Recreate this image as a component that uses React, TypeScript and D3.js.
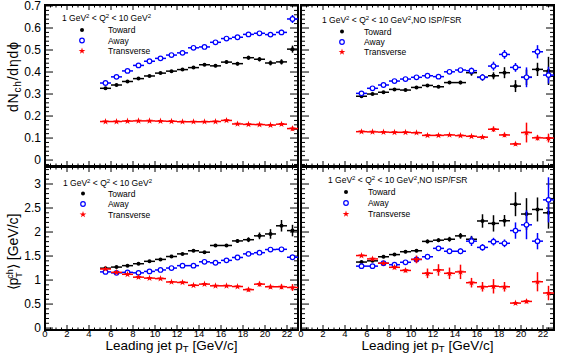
import React from "react";
import * as d3 from "d3";

// bin centres of leading jet pT (bins 1 GeV/c wide)
const ptBins = [5.5, 6.5, 7.5, 8.5, 9.5, 10.5, 11.5, 12.5, 13.5, 14.5, 15.5, 16.5, 17.5, 18.5, 19.5, 20.5, 21.5, 22.5];
const binHalf = 0.5;

const xTickValues = [0, 2, 4, 6, 8, 10, 12, 14, 16, 18, 20, 22];
const dnTickValues = [0, 0.1, 0.2, 0.3, 0.4, 0.5, 0.6, 0.7];
const ptTickValues = [0, 0.5, 1, 1.5, 2, 2.5, 3];

// dN/dηdϕ, 1 < Q2 < 10
const towardDN = [0.326, 0.341, 0.357, 0.37, 0.382, 0.395, 0.404, 0.411, 0.42, 0.433, 0.428, 0.445, 0.438, 0.465, 0.458, 0.441, 0.446, 0.504];
const towardDNErr = [0.004, 0.004, 0.004, 0.004, 0.004, 0.004, 0.005, 0.005, 0.005, 0.005, 0.006, 0.007, 0.008, 0.009, 0.01, 0.011, 0.012, 0.016];
const awayDN = [0.35, 0.378, 0.405, 0.43, 0.449, 0.462, 0.477, 0.487, 0.51, 0.514, 0.535, 0.552, 0.558, 0.571, 0.576, 0.57, 0.58, 0.641];
const awayDNErr = [0.004, 0.004, 0.004, 0.004, 0.004, 0.004, 0.005, 0.005, 0.005, 0.005, 0.006, 0.007, 0.008, 0.009, 0.01, 0.011, 0.012, 0.018];
const transDN = [0.175, 0.175, 0.177, 0.178, 0.178, 0.177, 0.176, 0.174, 0.174, 0.174, 0.175, 0.18, 0.164, 0.162, 0.161, 0.159, 0.163, 0.143];
const transDNErr = [0.002, 0.002, 0.002, 0.002, 0.002, 0.002, 0.002, 0.002, 0.002, 0.003, 0.003, 0.003, 0.004, 0.004, 0.004, 0.005, 0.006, 0.01];

// dN/dηdϕ, NO ISR/FSR
const towardDN2 = [0.29, 0.3, 0.308, 0.321, 0.318, 0.33, 0.339, 0.333, 0.352, 0.352, 0.397, 0.376, 0.383, 0.397, 0.336, 0.376, 0.412, 0.405];
const towardDN2Err = [0.004, 0.004, 0.004, 0.005, 0.005, 0.005, 0.006, 0.006, 0.007, 0.008, 0.014, 0.015, 0.016, 0.025, 0.027, 0.035, 0.03, 0.064];
const awayDN2 = [0.303, 0.326, 0.341, 0.359, 0.368, 0.376, 0.383, 0.379, 0.401, 0.409, 0.406, 0.376, 0.427, 0.48, 0.421, 0.376, 0.492, 0.386];
const awayDN2Err = [0.004, 0.004, 0.004, 0.005, 0.005, 0.005, 0.006, 0.006, 0.007, 0.008, 0.014, 0.015, 0.02, 0.02, 0.02, 0.045, 0.03, 0.038];
const transDN2 = [0.129, 0.128, 0.127, 0.126, 0.126, 0.124, 0.112, 0.112, 0.114, 0.111, 0.108, 0.104, 0.14, 0.114, 0.073, 0.125, 0.101, 0.1];
const transDN2Err = [0.002, 0.002, 0.002, 0.002, 0.002, 0.002, 0.002, 0.002, 0.003, 0.003, 0.004, 0.005, 0.012, 0.01, 0.008, 0.045, 0.012, 0.02];

// <pT>, 1 < Q2 < 10
const towardPT = [1.247, 1.27, 1.3, 1.34, 1.39, 1.43, 1.49, 1.545, 1.61, 1.58, 1.72, 1.72, 1.815, 1.84, 1.92, 1.96, 2.13, 2.03];
const towardPTErr = [0.01, 0.01, 0.01, 0.01, 0.015, 0.015, 0.015, 0.02, 0.02, 0.02, 0.03, 0.03, 0.04, 0.05, 0.07, 0.1, 0.12, 0.12];
const awayPT = [1.17, 1.15, 1.16, 1.15, 1.18, 1.21, 1.25, 1.3, 1.3, 1.38, 1.36, 1.41, 1.47, 1.545, 1.57, 1.635, 1.64, 1.475];
const awayPTErr = [0.01, 0.01, 0.01, 0.01, 0.01, 0.01, 0.015, 0.015, 0.015, 0.02, 0.02, 0.02, 0.02, 0.03, 0.03, 0.04, 0.05, 0.05];
const transPT = [1.23, 1.16, 1.12, 1.06, 1.04, 1.03, 0.96, 0.95, 0.89, 0.915, 0.88, 0.88, 0.865, 0.8, 0.915, 0.86, 0.86, 0.845];
const transPTErr = [0.01, 0.01, 0.01, 0.01, 0.01, 0.01, 0.015, 0.015, 0.015, 0.02, 0.02, 0.02, 0.03, 0.04, 0.05, 0.04, 0.05, 0.07];

// <pT>, NO ISR/FSR
const towardPT2 = [1.375, 1.4, 1.485, 1.53, 1.59, 1.61, 1.805, 1.83, 1.85, 1.92, 1.85, 2.23, 2.18, 2.235, 2.58, 2.375, 2.47, 2.4];
const towardPT2Err = [0.02, 0.02, 0.02, 0.03, 0.03, 0.03, 0.04, 0.04, 0.05, 0.06, 0.07, 0.14, 0.17, 0.12, 0.25, 0.33, 0.25, 0.33];
const awayPT2 = [1.29, 1.29, 1.35, 1.32, 1.37, 1.43, 1.485, 1.66, 1.6, 1.6, 1.81, 1.68, 1.8, 1.765, 2.03, 2.15, 1.81, 2.67];
const awayPT2Err = [0.02, 0.02, 0.03, 0.03, 0.03, 0.04, 0.04, 0.05, 0.05, 0.06, 0.1, 0.07, 0.08, 0.08, 0.17, 0.3, 0.17, 0.47];
const transPT2 = [1.51, 1.44, 1.35, 1.265, 1.2, 1.43, 1.14, 1.21, 1.14, 1.17, 0.945, 0.86, 0.87, 0.86, 0.52, 0.555, 0.965, 0.73];
const transPT2Err = [0.02, 0.03, 0.03, 0.04, 0.04, 0.08, 0.1, 0.12, 0.12, 0.15, 0.1, 0.1, 0.15, 0.1, 0.03, 0.04, 0.2, 0.15];

const seriesNames = ["Toward", "Away", "Transverse"];
const colors = ["#000000", "#0000ff", "#ff0000"];

const FONT = "Liberation Sans, Arial, Helvetica, sans-serif";
const PW = 253;
const starPath = d3.symbol(d3.symbolStar, 14)() as string;

const Marker = ({ kind, x, y }: { kind: number; x: number; y: number }) => {
  if (kind === 0) return <circle cx={x} cy={y} r={2} fill={colors[0]} />;
  if (kind === 1) return <circle cx={x} cy={y} r={2.3} fill="white" stroke={colors[1]} strokeWidth={1.2} />;
  return <path d={starPath} transform={`translate(${x},${y})`} fill={colors[2]} />;
};

const Q2Title = ({ x, y, suffix }: { x: number; y: number; suffix: string }) => (
  <text x={x} y={y} fontSize={8.5} fontFamily={FONT}>
    1 GeV<tspan dy={-3.5} fontSize={6}>2</tspan>
    <tspan dy={3.5}> &lt; Q</tspan>
    <tspan dy={-3.5} fontSize={6}>2</tspan>
    <tspan dy={3.5}> &lt; 10 GeV</tspan>
    <tspan dy={-3.5} fontSize={6}>2</tspan>
    <tspan dy={3.5}>{suffix}</tspan>
  </text>
);

type PanelProps = {
  x0: number;
  y: d3.ScaleLinear<number, number>;
  data: number[][];
  errs: number[][];
  yTicks: number[];
  yMinor: number;
  showY: boolean;
  showX: boolean;
  legend: { tx: number; ty: number; mx: number; lx: number; ly: number[]; suffix: string };
};

const Panel = ({ x0, y, data, errs, yTicks, yMinor, showY, showX, legend }: PanelProps) => {
  const x = d3.scaleLinear().domain([0, 23]).range([x0, x0 + PW]);
  const [yb, yt] = y.range();
  const [ymin, ymax] = y.domain();
  const xMinor = d3.range(0, 23.01, 0.5);
  const yMinorTicks = d3.range(Math.ceil(ymin / yMinor) * yMinor, ymax + 1e-9, yMinor);
  const x1 = x0 + PW;
  return (
    <g>
      {/* ticks */}
      <g stroke="black" strokeWidth={1}>
        {xMinor.map((t) => {
          const major = xTickValues.some((v) => Math.abs(v - t) < 1e-6);
          const len = major ? 5 : 2.5;
          return (
            <g key={"x" + t}>
              <line x1={x(t)} x2={x(t)} y1={yb} y2={yb - len} />
              <line x1={x(t)} x2={x(t)} y1={yt} y2={yt + len} />
            </g>
          );
        })}
        {yMinorTicks.map((t) => {
          const major = yTicks.some((v) => Math.abs(v - t) < 1e-6);
          const len = major ? 8 : 4;
          return (
            <g key={"y" + t}>
              <line x1={x0} x2={x0 + len} y1={y(t)} y2={y(t)} />
              <line x1={x1} x2={x1 - len} y1={y(t)} y2={y(t)} />
            </g>
          );
        })}
      </g>
      <rect x={x0} y={yt} width={PW} height={yb - yt} fill="none" stroke="black" strokeWidth={2} />
      {showY &&
        yTicks.map((t) => (
          <text key={"yl" + t} x={x0 - 4} y={y(t) + 4.3} textAnchor="end" fontSize={12} fontFamily={FONT}>
            {d3.format("~g")(t)}
          </text>
        ))}
      {showX &&
        xTickValues.map((t) => (
          <text key={"xl" + t} x={x(t)} y={yb + 6.5} textAnchor="middle" fontSize={9.5} fontFamily={FONT}>
            {t}
          </text>
        ))}
      {/* data */}
      {data.map((vals, s) => (
        <g key={"s" + s} stroke={colors[s]} strokeWidth={1.5}>
          {vals.map((v, i) => {
            const cx = x(ptBins[i]);
            const cy = y(v);
            return (
              <g key={i}>
                <line x1={x(ptBins[i] - binHalf)} x2={x(ptBins[i] + binHalf)} y1={cy} y2={cy} />
                <line x1={cx} x2={cx} y1={y(v - errs[s][i])} y2={y(v + errs[s][i])} />
              </g>
            );
          })}
          <g stroke="none">
            {vals.map((v, i) => (
              <Marker key={"m" + i} kind={s} x={x(ptBins[i])} y={y(v)} />
            ))}
          </g>
        </g>
      ))}
      {/* legend */}
      <Q2Title x={legend.tx} y={legend.ty} suffix={legend.suffix} />
      {seriesNames.map((n, s) => (
        <g key={n}>
          <Marker kind={s} x={legend.mx} y={legend.ly[s]} />
          <text x={legend.lx} y={legend.ly[s] + 3} fontSize={8.5} fontFamily={FONT}>
            {n}
          </text>
        </g>
      ))}
    </g>
  );
};

export default function App() {
  const yTop = d3.scaleLinear().domain([-0.027, 0.7045]).range([166, 5]);
  const yBot = d3.scaleLinear().domain([-0.04, 3.354]).range([330, 167]);
  const noIsr = ",NO ISP/FSR";
  return (
    <svg width={565} height={353} style={{ position: "absolute", left: 0, top: 0, background: "white" }}>
      <Panel
        x0={45}
        y={yTop}
        data={[towardDN, awayDN, transDN]}
        errs={[towardDNErr, awayDNErr, transDNErr]}
        yTicks={dnTickValues}
        yMinor={0.02}
        showY
        showX={false}
        legend={{ tx: 62, ty: 21, mx: 82, lx: 108, ly: [30, 40.5, 51], suffix: "" }}
      />
      <Panel
        x0={301}
        y={yTop}
        data={[towardDN2, awayDN2, transDN2]}
        errs={[towardDN2Err, awayDN2Err, transDN2Err]}
        yTicks={dnTickValues}
        yMinor={0.02}
        showY={false}
        showX={false}
        legend={{ tx: 322, ty: 23, mx: 342, lx: 364, ly: [31.5, 42, 52], suffix: noIsr }}
      />
      <Panel
        x0={45}
        y={yBot}
        data={[towardPT, awayPT, transPT]}
        errs={[towardPTErr, awayPTErr, transPTErr]}
        yTicks={ptTickValues}
        yMinor={0.1}
        showY
        showX
        legend={{ tx: 63, ty: 186, mx: 83, lx: 108, ly: [193.5, 204, 214.5], suffix: "" }}
      />
      <Panel
        x0={301}
        y={yBot}
        data={[towardPT2, awayPT2, transPT2]}
        errs={[towardPT2Err, awayPT2Err, transPT2Err]}
        yTicks={ptTickValues}
        yMinor={0.1}
        showY={false}
        showX
        legend={{ tx: 328, ty: 183, mx: 346, lx: 368, ly: [192, 203, 214], suffix: noIsr }}
      />
      {/* axis titles */}
      <text
        transform="translate(18,77) rotate(-90)"
        textAnchor="middle"
        fontSize={14}
        fontFamily={FONT}
        textLength={70}
        lengthAdjust="spacing"
      >
        dN<tspan dy={3} fontSize={10}>ch</tspan>
        <tspan dy={-3}>/dηdϕ</tspan>
      </text>
      <text transform="translate(18,252) rotate(-90)" textAnchor="middle" fontSize={14} fontFamily={FONT}>
        ⟨p<tspan dy={3.5} fontSize={9}>T</tspan>
        <tspan dx={-5.5} dy={-9} fontSize={9}>ch</tspan>
        <tspan dy={5.5}>⟩ [GeV/c]</tspan>
      </text>
      {[45, 301].map((x0) => (
        <text key={x0} x={x0 + PW / 2} y={349.5} textAnchor="middle" fontSize={13.5} fontFamily={FONT}>
          Leading jet p<tspan dy={2.5} fontSize={9.5}>T</tspan>
          <tspan dy={-2.5}> [GeV/c]</tspan>
        </text>
      ))}
    </svg>
  );
}
